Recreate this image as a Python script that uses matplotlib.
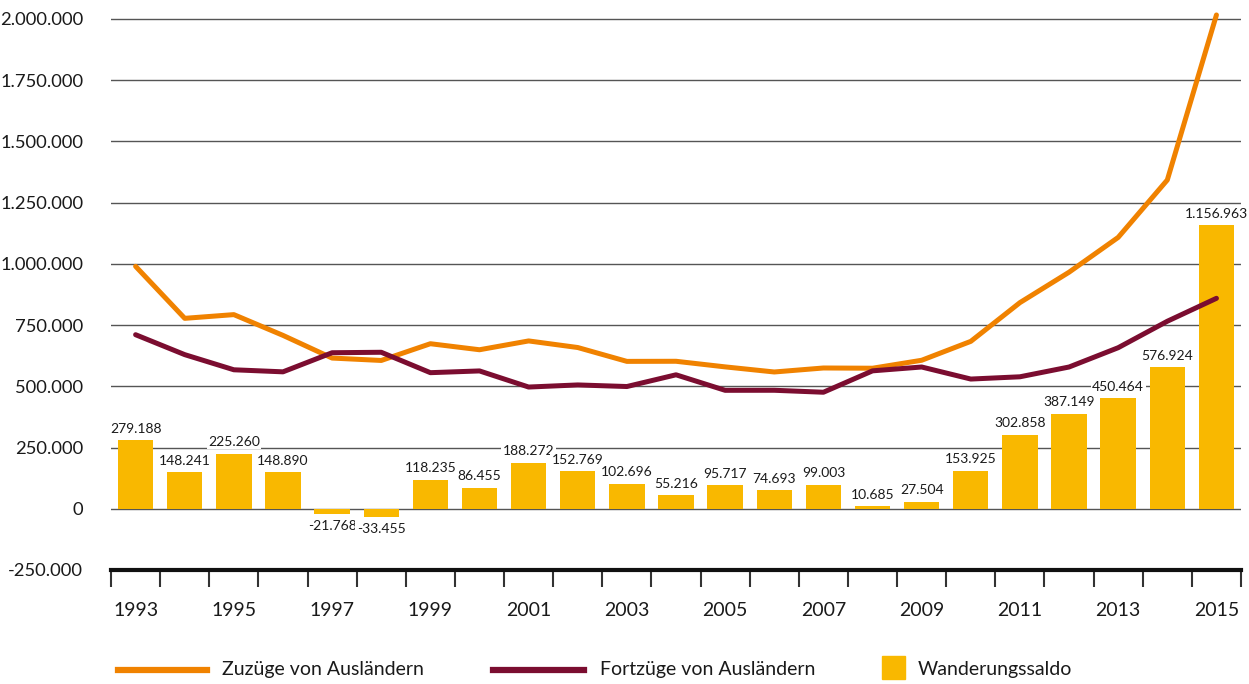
import matplotlib.pyplot as plt
from matplotlib.lines import Line2D
from matplotlib.patches import Rectangle
from matplotlib.ticker import FuncFormatter

plt.rcParams['font.family'] = ['Lato', 'DejaVu Sans']

years = list(range(1993, 2016))
zuzuege = [989847, 777516, 792701, 707954, 615298, 605500, 673873, 649249, 685259, 658341,
           601759, 602182, 579301, 558467, 574752, 573815, 606314, 683530, 841695, 965908,
           1108068, 1342529, 2016241]
fortzuege = [710659, 629275, 567441, 559064, 637066, 638955, 555638, 562794, 496987, 505572,
             499063, 546966, 483584, 483774, 475749, 563130, 578808, 529605, 538837, 578759,
             657604, 765605, 859278]
saldo = [279188, 148241, 225260, 148890, -21768, -33455, 118235, 86455, 188272, 152769,
         102696, 55216, 95717, 74693, 99003, 10685, 27504, 153925, 302858, 387149,
         450464, 576924, 1156963]

orange = '#F08200'
darkred = '#7B0D30'
yellow = '#F9B800'
txt = '#1a1a1a'

def de(v, pos=None):
    return f"{int(v):,}".replace(',', '.')

fig = plt.figure(figsize=(12.49, 6.84), dpi=100)
ax = fig.add_axes([0.0889, 0.1667, 0.9047, 0.8235])

x = list(range(len(years)))
ax.bar(x, saldo, width=0.72, color=yellow, zorder=2)
ax.plot(x, zuzuege, color=orange, lw=3.6, zorder=4, solid_capstyle='round')
ax.plot(x, fortzuege, color=darkred, lw=3.6, zorder=4, solid_capstyle='round')

for i, v in enumerate(saldo):
    if v >= 0:
        ax.annotate(de(v), (i, v), xytext=(0, 4), textcoords='offset points',
                    ha='center', va='bottom', fontsize=10, color=txt, zorder=3,
                    bbox=dict(facecolor='white', edgecolor='none', pad=1))
    else:
        ax.annotate(de(v), (i, v), xytext=(0, -4), textcoords='offset points',
                    ha='center', va='top', fontsize=10, color=txt, zorder=3,
                    bbox=dict(facecolor='white', edgecolor='none', pad=1))

ax.set_xlim(-0.5, len(years) - 0.5)
ax.set_ylim(-250000, 2050000)
yt = list(range(-250000, 2000001, 250000))
ax.set_yticks(yt)
ax.yaxis.set_major_formatter(FuncFormatter(de))
for y in yt[1:]:
    ax.axhline(y, color='#555555', lw=1, zorder=1)

ax.set_xticks(x[::2])
ax.set_xticklabels([str(y) for y in years[::2]])
ax.set_xticks([i - 0.5 for i in range(len(years) + 1)], minor=True)
ax.tick_params(axis='x', which='major', length=0, pad=23, labelsize=14, colors=txt)
ax.tick_params(axis='x', which='minor', length=12, width=1.5, color='#333333')
ax.tick_params(axis='y', length=0, pad=20, labelsize=13.2, colors=txt)

for s in ['top', 'right', 'left']:
    ax.spines[s].set_visible(False)
ax.spines['bottom'].set_linewidth(3)
ax.spines['bottom'].set_color('#111111')

# legend
ly = 1 - 670 / 684
fig.add_artist(Line2D([118 / 1249, 207 / 1249], [ly, ly], color=orange, lw=4.5))
fig.text(222 / 1249, ly, 'Zuzüge von Ausländern', va='center', ha='left', fontsize=14, color=txt)
fig.add_artist(Line2D([493 / 1249, 584 / 1249], [ly, ly], color=darkred, lw=4.5))
fig.text(600 / 1249, ly, 'Fortzüge von Ausländern', va='center', ha='left', fontsize=14, color=txt)
fig.add_artist(Rectangle((882 / 1249, 1 - 679 / 684), 23 / 1249, 23 / 684, color=yellow,
                         transform=fig.transFigure))
fig.text(918 / 1249, ly, 'Wanderungssaldo', va='center', ha='left', fontsize=14, color=txt)

fig.savefig('out.png', dpi=100)
